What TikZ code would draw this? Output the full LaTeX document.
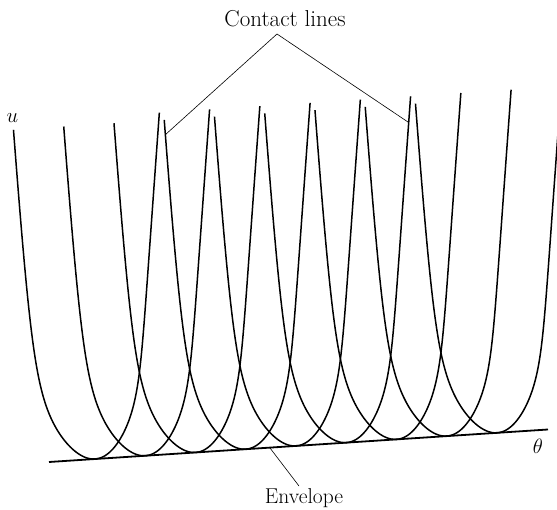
\documentclass[tikz,border=0pt]{standalone}
\begin{document}
\begin{tikzpicture}[x=1pt,y=-1pt,
  curve/.style={line width=1.5pt},
  envline/.style={line width=1.8pt},
  leader/.style={line width=0.6pt},
  lbl/.style={inner sep=0pt, font=\fontsize{21.5}{24}\selectfont},
  declare function={
    aa(\t)=0.12649*\t;
    bb(\t)=(49+0.073*\t*\t)/50;
    ws(\t)=50*aa(\t)*bb(\t)/(((aa(\t))^2)^3+((bb(\t))^2)^3)^(1/6);
    cc(\t)=-9*(1-exp(-\t*\t/80));
    dxx(\t)=ws(\t)+cc(\t);
    upp(\t)=\t*\t+0.0651*dxx(\t);
  }]
\useasboundingbox (0,0) rectangle (557,510);
\clip (0,0) rectangle (557,510);
% family of curves
\foreach \k in {0,...,8}{
  \draw[curve, shift={({95+50.25*\k},{459-3.273*\k})}]
    plot[domain=-18.29:18.5, samples=160, variable=\t]
      ({dxx(\t)},{-upp(\t)});
}
% envelope line
\coordinate (envL) at (49,462);
\coordinate (envR) at (548,429.5);
\draw[envline] (envL) -- (envR);
% labels
\node[lbl, anchor=base, font=\fontsize{23}{26}\selectfont] (contact) at (285,27) {Contact lines};
\node[lbl, anchor=north] (envlabel) at (304,488) {Envelope};
\node[lbl, font=\fontsize{20}{22}\selectfont] (ulabel) at (12.5,118) {$u$};
\node[lbl, font=\fontsize{20}{22}\selectfont] (thlabel) at (538,446) {$\theta$};
% leaders
\coordinate (apex) at (277,34);
\coordinate (cl1) at (165,135);
\coordinate (cl2) at (409,122.7);
\draw[leader] (cl1) -- (apex) -- (cl2);
\coordinate (envP) at (270,448);
\draw[leader] (envP) -- ([xshift=-5pt,yshift=2pt]envlabel.north);
\end{tikzpicture}
\end{document}
